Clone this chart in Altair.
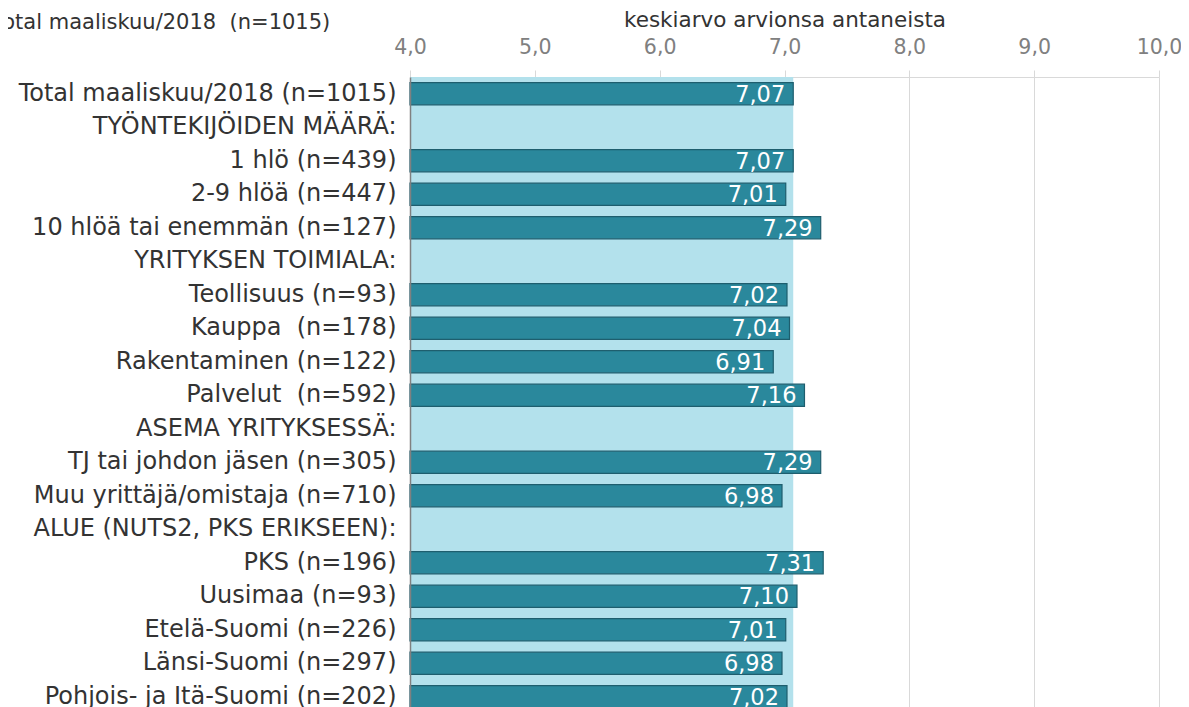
import altair as alt
import pandas as pd

labels = [
    "Total maaliskuu/2018 (n=1015)",
    "TYÖNTEKIJÖIDEN MÄÄRÄ:",
    "1 hlö (n=439)",
    "2-9 hlöä (n=447)",
    "10 hlöä tai enemmän (n=127)",
    "YRITYKSEN TOIMIALA:",
    "Teollisuus (n=93)",
    "Kauppa\u00a0 (n=178)",
    "Rakentaminen (n=122)",
    "Palvelut\u00a0 (n=592)",
    "ASEMA YRITYKSESSÄ:",
    "TJ tai johdon jäsen (n=305)",
    "Muu yrittäjä/omistaja (n=710)",
    "ALUE (NUTS2, PKS ERIKSEEN):",
    "PKS (n=196)",
    "Uusimaa (n=93)",
    "Etelä-Suomi (n=226)",
    "Länsi-Suomi (n=297)",
    "Pohjois- ja Itä-Suomi (n=202)",
]
values = [7.07, None, 7.07, 7.01, 7.29, None, 7.02, 7.04, 6.91, 7.16,
          None, 7.29, 6.98, None, 7.31, 7.10, 7.01, 6.98, 7.02]
band_start = [4.0]
band_end = [7.07]
x_ticks = [4.0, 5.0, 6.0, 7.0, 8.0, 9.0, 10.0]
top_title = "Total maaliskuu/2018\u00a0 (n=1015)"
axis_title = "keskiarvo arvionsa antaneista"

FONT = "DejaVu Sans"
df = pd.DataFrame({"label": labels, "value": values})
bars_df = df.dropna().copy()
bars_df["base"] = 4.0

x_scale = alt.Scale(domain=[4, 10], nice=False, zero=False)
y_scale = alt.Scale(domain=labels, paddingInner=0.34, paddingOuter=0.17)

band = alt.Chart(pd.DataFrame({"x": band_start, "x2": band_end})).mark_rect(
    color="#B3E1EC"
).encode(
    x=alt.X("x:Q", scale=x_scale,
            axis=alt.Axis(orient="top", values=x_ticks, title=axis_title,
                          labelExpr="replace(format(datum.value, '.1f'), '.', ',')",
                          labelColor="#808080", labelFont=FONT, labelFontSize=20.5,
                          labelFlush=False, labelOverlap=False,
                          labelPadding=13, tickSize=7, tickColor="#D9D9D9",
                          domainColor="#D9D9D9", gridColor="#D9D9D9",
                          titleFont=FONT, titleFontSize=21.5, titleFontWeight="normal",
                          titleColor="#333333", titlePadding=6)),
    x2="x2:Q",
)

bars = alt.Chart(bars_df).mark_bar(
    color="#2A889C", stroke="#1E5E6E", strokeWidth=1.2
).encode(
    x=alt.X("value:Q", scale=x_scale),
    x2="base:Q",
    y=alt.Y("label:N", sort=labels, scale=y_scale,
            axis=alt.Axis(title=None, labelFont=FONT, labelFontSize=24,
                          labelColor="#333333", labelPadding=14, ticks=False,
                          domainColor="#808080", domainWidth=1.5, zindex=1,
                          labelLimit=600)),
)

texts = alt.Chart(bars_df).transform_calculate(
    txt="replace(format(datum.value, '.2f'), '.', ',')"
).mark_text(
    align="right", baseline="middle", dx=-8, dy=1, color="white",
    font=FONT, fontSize=22.5
).encode(
    x=alt.X("value:Q", scale=x_scale),
    y=alt.Y("label:N", sort=labels, scale=y_scale),
    text="txt:N",
)

title_txt = alt.Chart(pd.DataFrame({"t": [top_title]})).mark_text(
    align="left", baseline="alphabetic", font=FONT, fontSize=21, color="#333333"
).encode(
    x=alt.value(-417), y=alt.value(-48), text="t:N"
)

chart = alt.layer(band, bars, texts, title_txt).properties(
    width=749, height=636.5,
    autosize=alt.AutoSizeParams(type="none"),
    padding={"left": 402, "top": 69, "right": 22, "bottom": 0},
).configure_view(stroke=None)

chart.save("out.html", embed_options={"renderer": "svg", "actions": False})
